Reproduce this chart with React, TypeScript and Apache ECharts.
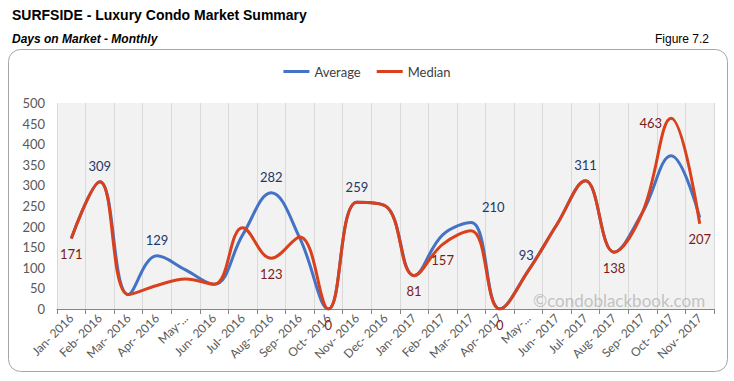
import React, { useEffect, useRef } from "react";
import * as echarts from "echarts";

const categories = [
  "Jan- 2016", "Feb- 2016", "Mar- 2016", "Apr- 2016", "May-...", "Jun- 2016",
  "Jul- 2016", "Aug- 2016", "Sep- 2016", "Oct- 2016", "Nov- 2016", "Dec- 2016",
  "Jan- 2017", "Feb- 2017", "Mar- 2017", "Apr- 2017", "May-...", "Jun- 2017",
  "Jul- 2017", "Aug- 2017", "Sep- 2017", "Oct- 2017", "Nov- 2017",
];
const averageValues = [171, 309, 35, 129, 95, 60, 180, 282, 172, 0, 259, 250, 81, 180, 210, 0, 93, 205, 311, 138, 235, 372, 222];
const medianValues = [171, 309, 35, 57, 73, 60, 197, 123, 175, 0, 259, 250, 81, 157, 190, 0, 93, 205, 311, 138, 235, 463, 207];

// index -> label position
const averageLabels: Record<number, string> = { 1: "top", 3: "top", 7: "top", 10: "top", 14: "topRight", 16: "topLeft", 18: "top" };
const medianLabels: Record<number, string> = { 0: "bottom", 7: "bottom", 9: "bottom", 12: "bottom", 13: "bottom", 15: "bottom", 19: "bottom", 21: "left", 22: "bottom" };

const AVG_COLOR = "#4472C4";
const MED_COLOR = "#D9401C";
const FONT = "Lato, 'Noto Sans', sans-serif";

function buildData(values: number[], labels: Record<number, string>, color: string) {
  return values.map((v, i) => {
    const pos = labels[i];
    if (!pos) return v;
    const label: any = { show: true, position: pos, color, fontSize: 13, fontFamily: FONT, distance: 9 };
    if (pos === "topRight") {
      label.position = "top";
      label.offset = [22, 0];
    }
    if (pos === "topLeft") {
      label.position = "top";
      label.offset = [-2, 0];
    }
    if (pos === "left") label.offset = [0, 5];
    return { value: v, label };
  });
}

export default function App() {
  const ref = useRef<HTMLDivElement>(null);
  useEffect(() => {
    if (!ref.current) return;
    const chart = echarts.init(ref.current, undefined, { renderer: "svg" });
    chart.setOption({
      animation: false,
      backgroundColor: "#ffffff",
      textStyle: { fontFamily: FONT },
      legend: {
        top: 60,
        left: "center",
        itemWidth: 26,
        itemHeight: 3,
        itemGap: 16,
        icon: "rect",
        textStyle: { color: "#404040", fontSize: 13, fontFamily: FONT },
        data: ["Average", "Median"],
      },
      grid: {
        left: 57,
        right: 20,
        top: 103,
        bottom: 72,
        show: true,
        backgroundColor: "#F2F2F2",
        borderWidth: 0,
      },
      xAxis: {
        type: "category",
        data: categories,
        boundaryGap: true,
        axisLine: { show: true, lineStyle: { color: "#868686", width: 1 } },
        axisTick: { show: true, length: 5, lineStyle: { color: "#868686" } },
        axisLabel: { rotate: 45, color: "#595959", fontSize: 12, fontFamily: FONT, margin: 7, interval: 0 },
        splitLine: { show: true, interval: 0, lineStyle: { color: "#D9D9D9", width: 1 } },
      },
      yAxis: {
        type: "value",
        min: 0,
        max: 500,
        interval: 50,
        axisLine: { show: false },
        axisTick: { show: false },
        axisLabel: { color: "#595959", fontSize: 13, fontFamily: FONT, margin: 12 },
        splitLine: { show: false },
      },
      series: [
        {
          name: "Average",
          type: "line",
          smooth: 0.4,
          symbol: "circle",
          symbolSize: 0,
          showSymbol: true,
          lineStyle: { color: AVG_COLOR, width: 3 },
          itemStyle: { color: AVG_COLOR },
          data: buildData(averageValues, averageLabels, "#1F3864"),
          z: 2,
        },
        {
          name: "Median",
          type: "line",
          smooth: 0.4,
          symbol: "circle",
          symbolSize: 0,
          showSymbol: true,
          lineStyle: { color: MED_COLOR, width: 3 },
          itemStyle: { color: MED_COLOR },
          data: buildData(medianValues, medianLabels, "#7B1A1A"),
          z: 3,
        },
      ],
      graphic: [
        {
          type: "rect",
          shape: { x: 8.5, y: 49.5, width: 719, height: 322, r: 12 },
          style: { fill: "none", stroke: "#A6A6A6", lineWidth: 1 },
          silent: true,
          z: -10,
        },
        {
          type: "text",
          x: 12,
          y: 8,
          style: { text: "SURFSIDE - Luxury Condo Market Summary", font: "bold 14px 'Liberation Sans', Arial, sans-serif", fill: "#000000" },
        },
        {
          type: "text",
          x: 12,
          y: 33,
          style: { text: "Days on Market - Monthly", font: "italic bold 12px 'Liberation Sans', Arial, sans-serif", fill: "#000000" },
        },
        {
          type: "text",
          x: 709,
          y: 33,
          style: { text: "Figure 7.2", font: "12px 'Liberation Sans', Arial, sans-serif", fill: "#000000", textAlign: "right" },
        },
        {
          type: "text",
          x: 533,
          y: 292,
          style: { text: "©condoblackbook.com", font: "17px Lato, 'Noto Sans', sans-serif", fill: "rgba(160,160,160,0.6)" },
          z: 5,
        },
      ],
    });
    return () => chart.dispose();
  }, []);
  return <div ref={ref} style={{ width: 734, height: 381, position: "absolute", left: 0, top: 0 }} />;
}
